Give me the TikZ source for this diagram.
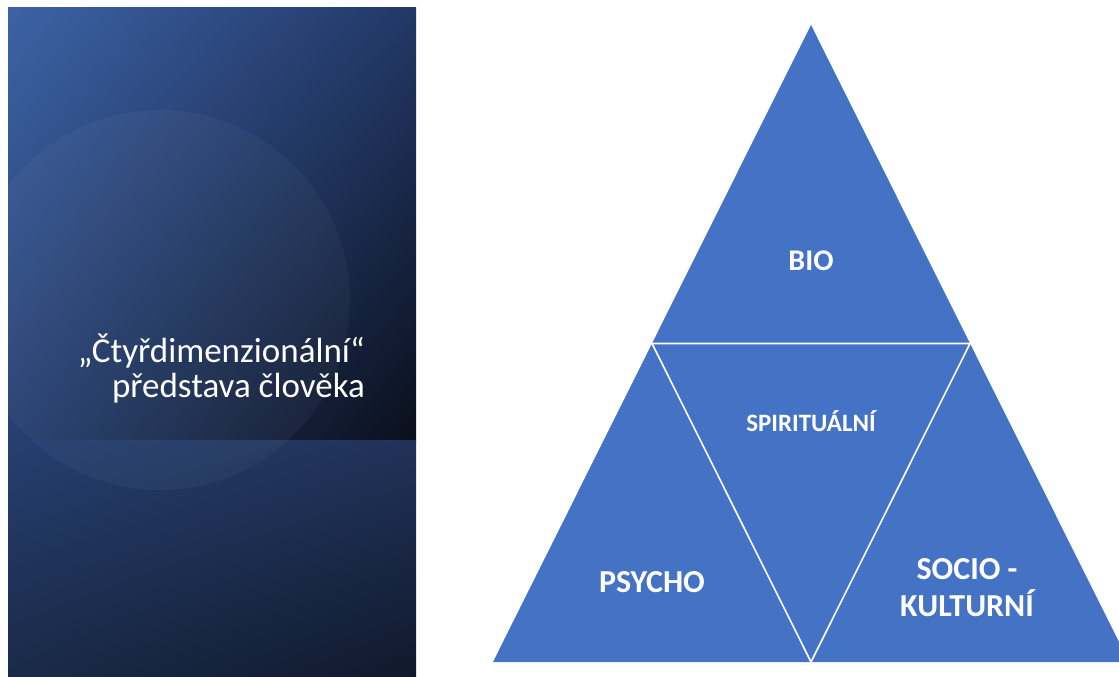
\documentclass[tikz,border=0pt]{standalone}
\usepackage{fontspec}
\setmainfont{Carlito}
\usetikzlibrary{calc, shadings}
\definecolor{triblue}{RGB}{68,114,196}
\definecolor{panUL}{RGB}{60,98,165}
\definecolor{panUR}{RGB}{34,56,102}
\definecolor{panML}{RGB}{38,63,112}
\definecolor{panMR}{RGB}{10,15,28}
\definecolor{panLUR}{RGB}{32,50,88}
\definecolor{panLL}{RGB}{26,42,72}
\definecolor{panLR}{RGB}{16,25,44}
\begin{document}
\begin{tikzpicture}[x=1pt, y=-1pt,
    tri/.style={fill=triblue},
    sep/.style={draw=white, line width=1.6pt, line join=miter},
    lab/.style={text=white, font=\bfseries\fontsize{30}{35}\selectfont, align=center},
    title/.style={text=white, font=\fontsize{35}{35}\selectfont, align=right, inner sep=0pt}]
    \useasboundingbox (0,0) rectangle (1119,677);
    \clip (0,0) rectangle (1119,677);

    \begin{scope}
        \clip (8,8) rectangle (416,677);
        \shade[upper left=panUL, upper right=panUR, lower left=panML, lower right=panMR] (8,8) rectangle (416,440);
        \shade[upper left=panML, upper right=panLUR, lower left=panLL, lower right=panLR] (8,440) rectangle (416,677);
        \fill[white, opacity=0.035] (160,300) circle (190);
    \end{scope}
    \node[title, anchor=east] (title) at (365,368) {„Čtyřdimenzionální“\\představa člověka};

    \coordinate (top) at (811,25);
    \coordinate (bl) at (493,662);
    \coordinate (br) at (1129,662);
    \coordinate (ml) at ($(top)!0.5!(bl)$);
    \coordinate (mr) at ($(top)!0.5!(br)$);
    \coordinate (mb) at ($(bl)!0.5!(br)$);

    \fill[tri] (top) -- (bl) -- (br) -- cycle;
    \draw[sep] (ml) -- (mr) -- (mb) -- cycle;

    \node[lab] (bio) at (811,261) {BIO};
    \node[lab, font=\bfseries\fontsize{25}{30}\selectfont] (spirit) at (811,421) {SPIRITUÁLNÍ};
    \node[lab, font=\bfseries\fontsize{32}{36}\selectfont] (psycho) at (652,582) {PSYCHO};
    \node[lab, font=\bfseries\fontsize{32}{37}\selectfont] (socio) at (967,588) {SOCIO -\\KULTURNÍ};
\end{tikzpicture}
\end{document}
